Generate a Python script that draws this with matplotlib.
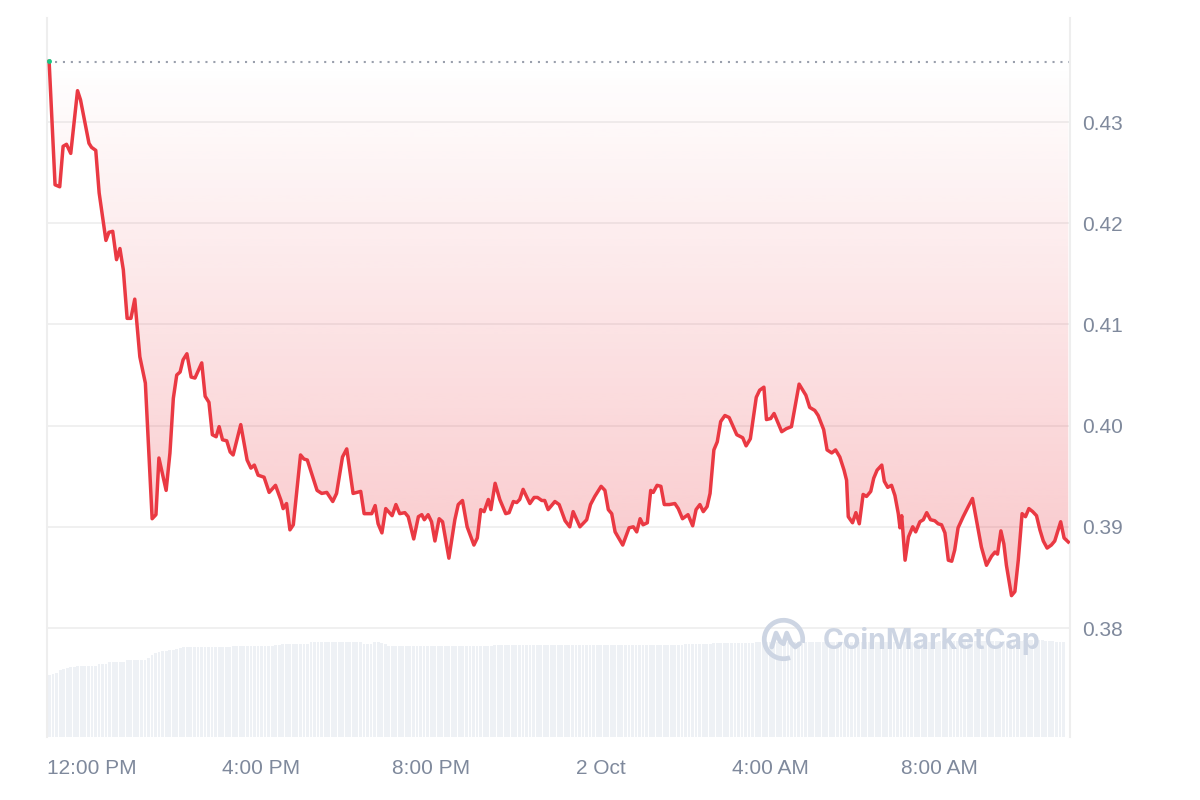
import matplotlib
matplotlib.use("Agg")
import matplotlib.pyplot as plt
from matplotlib.patches import PathPatch, Arc
from matplotlib.colors import to_rgb
import numpy as np

plt.rcParams['font.family'] = ['Liberation Sans', 'DejaVu Sans']

# hours after 12:00 PM (1 Oct) and price in USD
hours = [-1.01, -0.87, -0.76, -0.68, -0.60, -0.50, -0.34, -0.27, -0.07, -0.01,
         0.09, 0.17, 0.33, 0.40, 0.49, 0.58, 0.66, 0.74, 0.83, 0.92,
         1.01, 1.13, 1.26, 1.42, 1.51, 1.58, 1.75, 1.84, 1.92, 2.00,
         2.08, 2.15, 2.24, 2.34, 2.43, 2.59, 2.67, 2.76, 2.84, 2.93,
         3.00, 3.08, 3.18, 3.26, 3.33, 3.51, 3.66, 3.75, 3.83, 3.92,
         4.06, 4.18, 4.33, 4.46, 4.51, 4.59, 4.67, 4.75, 4.92, 5.00,
         5.08, 5.31, 5.42, 5.54, 5.68, 5.77, 5.91, 6.01, 6.16, 6.34,
         6.42, 6.60, 6.68, 6.75, 6.84, 6.93, 7.08, 7.17, 7.26, 7.38,
         7.46, 7.59, 7.70, 7.78, 7.84, 7.93, 8.01, 8.09, 8.19, 8.27,
         8.42, 8.56, 8.64, 8.74, 8.85, 9.01, 9.09, 9.17, 9.25, 9.35,
         9.41, 9.51, 9.62, 9.76, 9.84, 9.94, 10.02, 10.09, 10.17, 10.33,
         10.43, 10.51, 10.61, 10.68, 10.76, 10.92, 11.02, 11.16, 11.27, 11.35,
         11.51, 11.67, 11.76, 11.86, 12.01, 12.10, 12.18, 12.26, 12.34, 12.52,
         12.67, 12.77, 12.85, 12.93, 13.00, 13.10, 13.18, 13.24, 13.33, 13.42,
         13.50, 13.62, 13.75, 13.83, 13.93, 14.06, 14.17, 14.25, 14.34, 14.42,
         14.51, 14.58, 14.67, 14.75, 14.83, 14.93, 15.03, 15.21, 15.35, 15.43,
         15.53, 15.67, 15.75, 15.85, 15.91, 16.01, 16.09, 16.27, 16.38, 16.50,
         16.68, 16.84, 16.93, 17.05, 17.13, 17.26, 17.34, 17.45, 17.54, 17.64,
         17.74, 17.80, 17.84, 17.94, 18.02, 18.10, 18.19, 18.27, 18.37, 18.44,
         18.52, 18.63, 18.69, 18.77, 18.86, 18.94, 19.02, 19.06, 19.10, 19.18,
         19.26, 19.36, 19.43, 19.53, 19.61, 19.69, 19.78, 19.88, 19.96, 20.04,
         20.12, 20.20, 20.28, 20.35, 20.43, 20.55, 20.67, 20.77, 20.87, 20.98,
         21.10, 21.22, 21.30, 21.36, 21.44, 21.51, 21.57, 21.69, 21.77, 21.85,
         21.94, 22.02, 22.10, 22.19, 22.28, 22.36, 22.44, 22.53, 22.63, 22.71,
         22.79, 22.85, 22.93, 23.03]

price = [0.4360, 0.4238, 0.4236, 0.4276, 0.4278, 0.4269, 0.4331, 0.4322, 0.4279, 0.4275,
         0.4272, 0.4230, 0.4183, 0.4191, 0.4192, 0.4164, 0.4175, 0.4154, 0.4106, 0.4106,
         0.4125, 0.4068, 0.4042, 0.3908, 0.3912, 0.3968, 0.3936, 0.3973, 0.4027, 0.4050,
         0.4053, 0.4065, 0.4071, 0.4048, 0.4047, 0.4062, 0.4029, 0.4023, 0.3991, 0.3989,
         0.3999, 0.3986, 0.3985, 0.3974, 0.3971, 0.4001, 0.3966, 0.3958, 0.3961, 0.3951,
         0.3949, 0.3934, 0.3941, 0.3926, 0.3918, 0.3923, 0.3897, 0.3902, 0.3971, 0.3967,
         0.3966, 0.3936, 0.3933, 0.3934, 0.3925, 0.3933, 0.3969, 0.3977, 0.3933, 0.3935,
         0.3913, 0.3913, 0.3921, 0.3903, 0.3894, 0.3918, 0.3911, 0.3922, 0.3913, 0.3914,
         0.3910, 0.3888, 0.3910, 0.3912, 0.3907, 0.3912, 0.3905, 0.3886, 0.3908, 0.3905,
         0.3869, 0.3907, 0.3922, 0.3926, 0.3900, 0.3882, 0.3889, 0.3917, 0.3915, 0.3927,
         0.3917, 0.3943, 0.3927, 0.3913, 0.3914, 0.3925, 0.3924, 0.3927, 0.3937, 0.3923,
         0.3929, 0.3929, 0.3926, 0.3926, 0.3917, 0.3925, 0.3922, 0.3906, 0.3900, 0.3915,
         0.3900, 0.3907, 0.3922, 0.3930, 0.3940, 0.3936, 0.3917, 0.3913, 0.3895, 0.3882,
         0.3899, 0.3900, 0.3895, 0.3908, 0.3902, 0.3904, 0.3936, 0.3934, 0.3941, 0.3940,
         0.3922, 0.3922, 0.3923, 0.3918, 0.3908, 0.3912, 0.3901, 0.3917, 0.3922, 0.3915,
         0.3920, 0.3933, 0.3976, 0.3984, 0.4004, 0.4010, 0.4008, 0.3991, 0.3988, 0.3980,
         0.3987, 0.4028, 0.4035, 0.4038, 0.4006, 0.4007, 0.4012, 0.3994, 0.3997, 0.3999,
         0.4041, 0.4030, 0.4018, 0.4015, 0.4010, 0.3996, 0.3976, 0.3973, 0.3976, 0.3969,
         0.3956, 0.3946, 0.3910, 0.3904, 0.3914, 0.3903, 0.3932, 0.3930, 0.3935, 0.3948,
         0.3956, 0.3961, 0.3945, 0.3939, 0.3941, 0.3931, 0.3913, 0.3899, 0.3911, 0.3867,
         0.3890, 0.3900, 0.3895, 0.3905, 0.3907, 0.3914, 0.3907, 0.3906, 0.3903, 0.3902,
         0.3894, 0.3867, 0.3866, 0.3877, 0.3899, 0.3910, 0.3920, 0.3928, 0.3905, 0.3880,
         0.3862, 0.3871, 0.3875, 0.3873, 0.3896, 0.3883, 0.3862, 0.3832, 0.3836, 0.3867,
         0.3913, 0.3910, 0.3918, 0.3915, 0.3911, 0.3897, 0.3886, 0.3879, 0.3882, 0.3886,
         0.3897, 0.3905, 0.3889, 0.3885]

open_price = 0.4359

# 24h volume, one bar per 5 minutes (relative units)
volume = [62, 63, 64, 67, 68, 69, 70, 70, 71, 71, 71, 71, 71, 71, 73, 73, 73, 75, 75, 75, 75, 75, 77, 77,
          77, 77, 77, 77, 79, 82, 84, 85, 86, 86, 87, 87, 88, 89, 90, 90, 90, 90, 90, 90, 90, 90, 90, 90,
          90, 90, 90, 90, 91, 91, 91, 91, 91, 91, 91, 91, 91, 91, 91, 91, 92, 92, 93, 93, 93, 93, 93, 93,
          93, 93, 95, 95, 95, 95, 95, 95, 95, 95, 95, 95, 95, 95, 95, 95, 95, 93, 93, 93, 95, 95, 94, 93,
          91, 91, 91, 91, 91, 91, 91, 91, 91, 91, 91, 91, 91, 91, 91, 91, 91, 91, 91, 91, 91, 91, 91, 91,
          91, 91, 91, 91, 91, 91, 92, 92, 92, 92, 92, 92, 92, 92, 92, 92, 92, 92, 92, 92, 92, 92, 92, 92,
          92, 92, 92, 92, 92, 92, 92, 92, 92, 92, 92, 92, 92, 92, 92, 92, 92, 92, 92, 92, 92, 92, 92, 92,
          92, 92, 92, 92, 92, 92, 92, 92, 92, 92, 92, 92, 93, 93, 93, 93, 93, 93, 93, 93, 94, 94, 94, 94,
          94, 94, 94, 94, 94, 94, 94, 94, 95, 95, 95, 95, 95, 95, 95, 95, 95, 95, 95, 95, 95, 95, 95, 95,
          95, 95, 95, 95, 95, 95, 95, 95, 95, 95, 95, 95, 95, 95, 95, 95, 95, 95, 95, 95, 95, 95, 95, 95,
          95, 95, 95, 95, 95, 95, 95, 95, 95, 95, 95, 95, 96, 96, 96, 96, 96, 96, 96, 96, 96, 96, 96, 96,
          96, 96, 96, 96, 96, 96, 96, 96, 96, 96, 96, 96, 97, 97, 97, 97, 97, 97, 96, 96, 96, 95, 95, 95]

tick_hours = [0, 4, 8, 12, 16, 20]
tick_labels = ['12:00 PM', '4:00 PM', '8:00 PM', '2 Oct', '4:00 AM', '8:00 AM']
price_ticks = [0.38, 0.39, 0.40, 0.41, 0.42, 0.43]

red = '#ea3943'
label_color = '#7f899c'
xlim = (-1.06, 23.07)
ylim = (0.36923, 0.44028)

fig = plt.figure(figsize=(12, 8), dpi=100)
pos = [47 / 1200, 1 - 737 / 800, 1023 / 1200, 719 / 800]

# volume bars in the background
axv = fig.add_axes(pos, zorder=0)
vol_hours = [-1.0 + i / 12 for i in range(len(volume))]
axv.bar(vol_hours, volume, width=1 / 12 * 0.8, color='#eef1f5', linewidth=0)
axv.set_xlim(xlim)
axv.set_ylim(0, max(volume) * 719 / 97)
axv.axis('off')

ax = fig.add_axes(pos, zorder=1)
ax.patch.set_visible(False)

# gradient fill between price and opening price
fill = ax.fill_between(hours, price, open_price, color='none', linewidth=0)
clip = PathPatch(fill.get_paths()[0], transform=ax.transData, facecolor='none', edgecolor='none')
ax.add_patch(clip)
n = 256
grad = np.zeros((n, 1, 4))
grad[..., :3] = to_rgb(red)
grad[:, 0, 3] = np.linspace(0.0, 0.36, n)
img = ax.imshow(grad, extent=[xlim[0], xlim[1], ylim[0], open_price], origin='upper',
                aspect='auto', zorder=1, interpolation='bilinear')
img.set_clip_path(clip)

ax.axhline(open_price, xmin=0.008, color='#9aa0ad', lw=1.5, ls=(0, (1, 2.8)), zorder=2)
ax.plot(hours, price, color=red, lw=2.5, zorder=3, solid_joinstyle='round')
ax.plot(hours[0], price[0], 'o', color='#16c784', ms=2.5, zorder=4)

ax.set_xlim(xlim)
ax.set_ylim(ylim)
ax.set_yticks(price_ticks)
ax.set_yticklabels(['%.2f' % v for v in price_ticks])
ax.yaxis.tick_right()
ax.set_xticks(tick_hours)
ax.set_xticklabels(tick_labels)
ax.tick_params(axis='y', length=0, pad=9, labelsize=15, labelcolor=label_color)
ax.tick_params(axis='x', length=0, pad=16, labelsize=15, labelcolor=label_color)
ax.grid(axis='y', color='#eeeeee', lw=1.2)
ax.set_axisbelow(True)
for side in ['top', 'bottom']:
    ax.spines[side].set_visible(False)
for side in ['left', 'right']:
    ax.spines[side].set_color('#eeeeee')
    ax.spines[side].set_linewidth(1.5)

# watermark
wm = '#cdd5e3'
fig.text(823 / 1200, 1 - 641 / 800, 'CoinMarketCap', fontsize=20.5, fontweight='bold',
         color=wm, va='center', ha='left', family=['Inter', 'DejaVu Sans'], zorder=5)
axl = fig.add_axes([760 / 1200, 1 - 663 / 800, 47 / 1200, 47 / 800], zorder=5)
axl.set_xlim(-1.1, 1.1)
axl.set_ylim(-1.1, 1.1)
axl.axis('off')
axl.add_patch(Arc((0, 0), 1.8, 1.8, theta1=-10, theta2=290, color=wm, lw=3.4))
axl.plot([-0.55, -0.35, -0.15, 0.0, 0.15, 0.35, 0.55, 0.75],
         [-0.35, 0.3, -0.1, -0.2, 0.3, -0.15, -0.35, -0.2], color=wm, lw=3.4,
         solid_joinstyle='round', solid_capstyle='round')

fig.savefig('out.png', dpi=100)
